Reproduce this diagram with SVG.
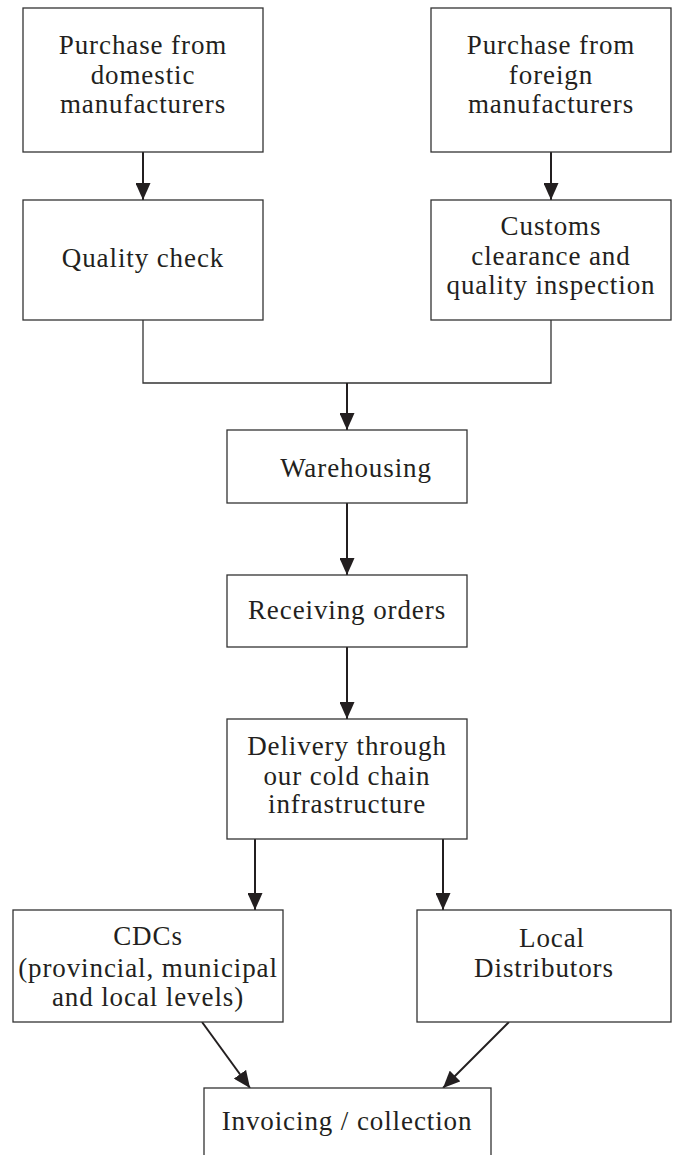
<svg xmlns="http://www.w3.org/2000/svg" width="675" height="1155" viewBox="0 0 675 1155">
  <style>
    .box { fill: #ffffff; stroke: #333333; stroke-width: 1.3; }
    .lbl { font-family: "Liberation Serif", "Times New Roman", serif; font-size: 27px; fill: #231f20; text-anchor: middle; letter-spacing: 0.9px; }
    .arrow { fill: none; stroke: #231f20; stroke-width: 2; marker-end: url(#head); }
    .join { fill: none; stroke: #333333; stroke-width: 1.3; }
  </style>
  <defs>
    <marker id="head" markerUnits="userSpaceOnUse" markerWidth="17" markerHeight="15" refX="17" refY="7.5" orient="auto">
      <path d="M0,0 L17,7.5 L0,15 Z" fill="#231f20"/>
    </marker>
  </defs>

  <rect width="675" height="1155" fill="#ffffff"/>

  <!-- connectors -->
  <g id="connectors">
    <line class="arrow" x1="143" y1="152" x2="143" y2="200"/>
    <line class="arrow" x1="551" y1="152" x2="551" y2="200"/>
    <polyline class="join" points="143,320 143,383 551,383 551,320"/>
    <line class="arrow" x1="347" y1="383" x2="347" y2="430"/>
    <line class="arrow" x1="347" y1="503" x2="347" y2="575"/>
    <line class="arrow" x1="347" y1="647" x2="347" y2="719"/>
    <line class="arrow" x1="255" y1="839" x2="255" y2="910"/>
    <line class="arrow" x1="443" y1="839" x2="443" y2="910"/>
    <line class="arrow" x1="202" y1="1022" x2="250" y2="1088"/>
    <line class="arrow" x1="509" y1="1022" x2="443" y2="1088"/>
  </g>

  <g id="purchase-domestic">
    <rect class="box" x="23" y="8" width="240" height="144"/>
    <text class="lbl" x="143" y="54">Purchase from</text>
    <text class="lbl" x="143" y="84">domestic</text>
    <text class="lbl" x="143" y="113">manufacturers</text>
  </g>

  <g id="purchase-foreign">
    <rect class="box" x="431" y="8" width="240" height="144"/>
    <text class="lbl" x="551" y="54">Purchase from</text>
    <text class="lbl" x="551" y="84">foreign</text>
    <text class="lbl" x="551" y="113">manufacturers</text>
  </g>

  <g id="quality-check">
    <rect class="box" x="23" y="200" width="240" height="120"/>
    <text class="lbl" x="143" y="267">Quality check</text>
  </g>

  <g id="customs">
    <rect class="box" x="431" y="200" width="240" height="120"/>
    <text class="lbl" x="551" y="235">Customs</text>
    <text class="lbl" x="551" y="265">clearance and</text>
    <text class="lbl" x="551" y="294">quality inspection</text>
  </g>

  <g id="warehousing">
    <rect class="box" x="227" y="430" width="240" height="73"/>
    <text class="lbl" x="356" y="477">Warehousing</text>
  </g>

  <g id="receiving-orders">
    <rect class="box" x="227" y="575" width="240" height="72"/>
    <text class="lbl" x="347" y="619">Receiving orders</text>
  </g>

  <g id="delivery">
    <rect class="box" x="227" y="719" width="240" height="120"/>
    <text class="lbl" x="347" y="755">Delivery through</text>
    <text class="lbl" x="347" y="785">our cold chain</text>
    <text class="lbl" x="347" y="813">infrastructure</text>
  </g>

  <g id="cdcs">
    <rect class="box" x="13" y="910" width="270" height="112"/>
    <text class="lbl" x="148" y="945">CDCs</text>
    <text class="lbl" x="148" y="977">(provincial, municipal</text>
    <text class="lbl" x="148" y="1006">and local levels)</text>
  </g>

  <g id="local-distributors">
    <rect class="box" x="417" y="910" width="254" height="112"/>
    <text class="lbl" x="552" y="947">Local</text>
    <text class="lbl" x="544" y="977">Distributors</text>
  </g>

  <g id="invoicing">
    <rect class="box" x="204" y="1088" width="287" height="90"/>
    <text class="lbl" x="347" y="1130">Invoicing / collection</text>
  </g>
</svg>
